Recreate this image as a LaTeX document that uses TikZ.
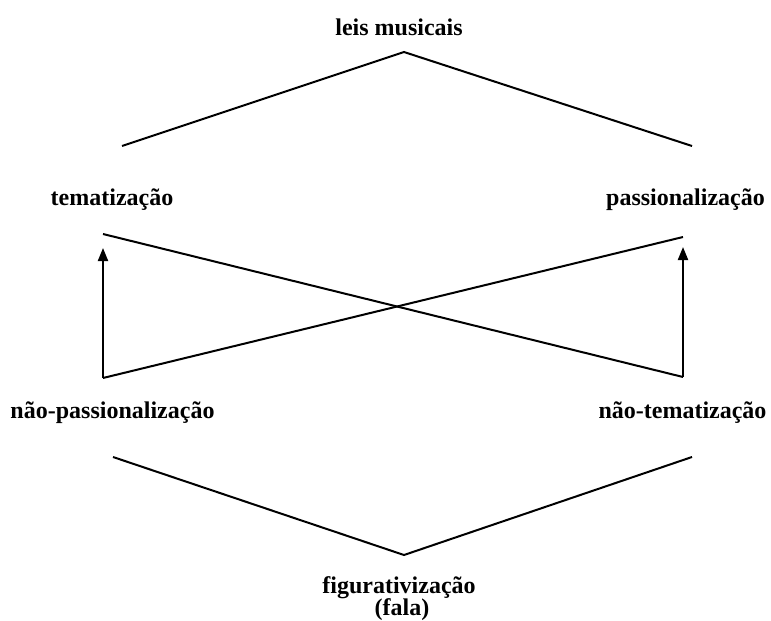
\documentclass[tikz,border=0pt]{standalone}
\usepackage{fontspec}
\setmainfont{Liberation Serif}
\usetikzlibrary{arrows.meta}
\begin{document}
\begin{tikzpicture}[x=1pt,y=-1pt,
  lbl/.style={font=\bfseries\fontsize{24}{26}\selectfont, inner sep=0pt, anchor=base},
  ln/.style={line width=2pt, line cap=butt, line join=miter},
  arr/.style={ln, -{Triangle[length=13pt,width=10pt]}}]
\useasboundingbox (0,0) rectangle (771,621);
% labels
\node[lbl] (leis) at (399,35) {leis musicais};
\node[lbl] (tem) at (112,205) {tematização};
\node[lbl] (pas) at (685.5,205) {passionalização};
\node[lbl] (npas) at (112.5,418) {não-passionalização};
\node[lbl] (ntem) at (682.5,418) {não-tematização};
\node[lbl] (fig) at (399,593) {figurativização};
\node[lbl] (fala) at (402,615) {(fala)};
% coordinates
\coordinate (topA) at (404,52);
\coordinate (topL) at (122,146);
\coordinate (topR) at (692,146);
\coordinate (botA) at (404,555);
\coordinate (botL) at (113,457);
\coordinate (botR) at (692,457);
\coordinate (xTL) at (103,234);
\coordinate (xTR) at (683,237);
\coordinate (xBL) at (103,378);
\coordinate (xBR) at (683,377);
\coordinate (tipL) at (103,248);
\coordinate (tipR) at (683,247);
% lines
\draw[ln] (topL) -- (topA) -- (topR);
\draw[ln] (botL) -- (botA) -- (botR);
\draw[ln] (xTL) -- (xBR);
\draw[ln] (xBL) -- (xTR);
\draw[arr] (xBL) -- (tipL);
\draw[arr] (xBR) -- (tipR);
\end{tikzpicture}
\end{document}
